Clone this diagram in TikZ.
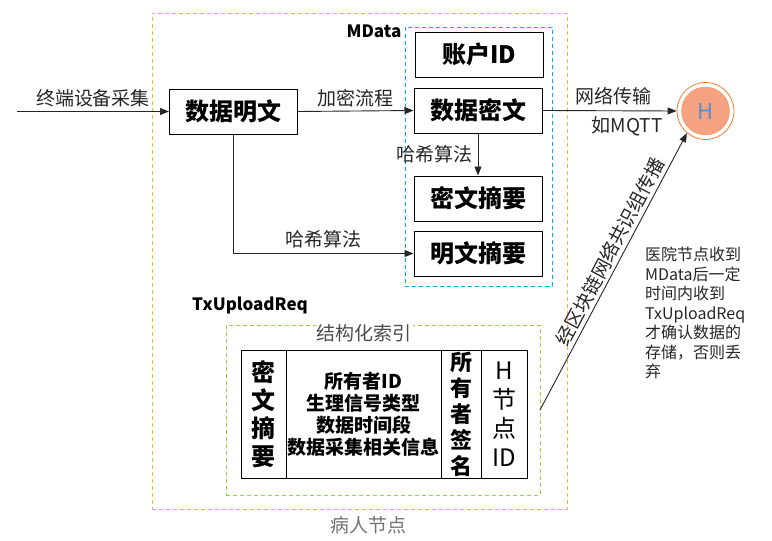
\documentclass[tikz,border=0pt]{standalone}
\usepackage{fontspec}
\setmainfont{Noto Sans CJK SC}
\usetikzlibrary{arrows.meta,positioning}

\definecolor{patientline}{RGB}{242,184,48}
\definecolor{mdataline}{RGB}{0,176,240}
\definecolor{indexline}{RGB}{146,208,80}
\definecolor{hfill}{RGB}{244,162,128}
\definecolor{hring}{RGB}{237,125,49}
\definecolor{hletter}{RGB}{96,140,200}

\tikzset{
  block/.style={draw, line width=1pt, minimum width=128pt, minimum height=45pt,
    inner sep=0pt, font=\fontsize{24}{26}\selectfont\bfseries},
  cell/.style={draw, line width=1pt, minimum height=128pt, inner sep=0pt,
    align=center},
  zone/.style={draw, dash pattern=on 4pt off 3pt, line width=0.8pt},
  lbl/.style={font=\fontsize{19}{21}\selectfont, text=black!85},
  tag/.style={font=\fontsize{17}{19}\selectfont\bfseries},
  conn/.style={draw=black!85, line width=0.9pt, -{Triangle[length=9pt,width=7pt]}}
}

\begin{document}
\begin{tikzpicture}[x=1pt, y=-1pt]
        \useasboundingbox (0,0) rectangle (772,541);

        % dashed zones
        \node [zone, draw=patientline, minimum width=415pt,
          minimum height=496pt] (patient) at (359.5,261) {};
        \node [lbl, text=black!55] (patientname) at (368,525) {病人节点};
        \node [zone, draw=mdataline, minimum width=147pt,
          minimum height=259pt] (mdata) at (478.5,156.5) {};
        \node [tag] (mdataname) at (374,31) {MData};
        \node [zone, draw=indexline, minimum width=314pt,
          minimum height=170pt] (index) at (383,410) {};
        \node [tag] (reqname) at (250,305) {TxUploadReq};
        \node [lbl, text=black!70, fill=white, inner sep=1pt] (indexname)
          at (364,333) {结构化索引};

        % blocks
        \node [block] (plain) at (233.5,111.5) {数据明文};
        \node [block] (account) at (479,54.5) {账户ID};
        \node [block] (cipher) at (478,110.5) {数据密文};
        \node [block] (cdigest) at (478,198.5) {密文摘要};
        \node [block] (pdigest) at (478,253.5) {明文摘要};

        % H node
        \node [circle, draw=hring, line width=0.8pt, minimum size=57pt]
          (hnode) at (705.5,111) {};
        \node [circle, draw=hring!80, fill=hfill, minimum size=48pt,
          font=\fontsize{22}{24}\selectfont, text=hletter] (hcore)
          at (705.5,111) {H};

        % index table
        \node [cell, minimum width=45pt,
          font=\fontsize{24}{28}\selectfont\bfseries] (c1) at (263.5,414)
          {密\\文\\摘\\要};
        \node [cell, minimum width=155pt,
          font=\fontsize{19}{22}\selectfont\bfseries] (c2) at (363.5,414)
          {所有者ID\\生理信号类型\\数据时间段\\数据采集相关信息};
        \node [cell, minimum width=40pt,
          font=\fontsize{22}{26}\selectfont\bfseries] (c3) at (461,414)
          {所\\有\\者\\签\\名};
        \node [cell, minimum width=46pt,
          font=\fontsize{24}{29}\selectfont] (c4) at (504,414)
          {H\\节\\点\\ID};

        % note
        \node [anchor=north west, align=left, inner sep=0pt,
          font=\fontsize{16}{19.5}\selectfont, text=black!85] (note)
          at (645,247) {医院节点收到\\MData后一定\\时间内收到\\TxUploadReq\\才确认数据的\\存储，否则丢\\弃};

        % connectors
        \coordinate (device) at (17,111.5);
        \coordinate (chain) at (540,410);
        \draw [conn] (device) -- (plain.west) node [lbl, midway, above,
          inner sep=4pt] {终端设备采集};
        \draw [conn] (plain.east) -- (cipher.west) node [lbl, midway, above,
          inner sep=4pt] {加密流程};
        \draw [conn] (cipher.south) -- (cdigest.north) node [lbl, midway,
          left, inner sep=5pt] {哈希算法};
        \draw [conn] (plain.south) |- (pdigest.west) node [lbl, pos=0.75,
          above, inner sep=5pt] {哈希算法};
        \draw [conn] (cipher.east) -- (hnode.west) node [lbl, pos=0.53, above,
          inner sep=5pt] {网络传输} node [lbl, pos=0.63, below,
          inner sep=5pt] {如MQTT};
        \draw [conn] (chain) -- (hnode.230) node [lbl, pos=0.55, above,
          sloped, inner sep=3pt] {经区块链网络共识组传播};

\end{tikzpicture}
\end{document}
